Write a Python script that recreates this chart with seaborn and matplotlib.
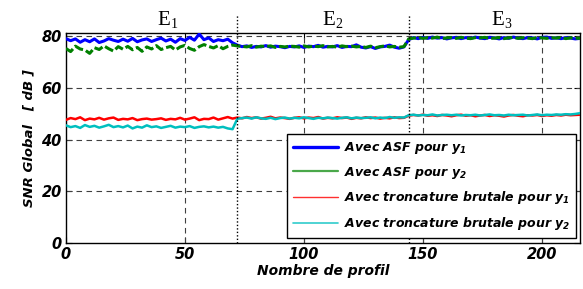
import matplotlib
matplotlib.use("Agg")
import matplotlib.pyplot as plt
from matplotlib.lines import Line2D
import numpy as np
import pandas as pd
import seaborn as sns

# profile index (one point every 2 profiles), three segments E1, E2, E3
profiles = list(range(0, 217, 2))
segment_bounds = [72, 144]
segment_labels = [("E", "1", 44), ("E", "2", 113), ("E", "3", 184)]

blue_asf_y1 = [79.0, 78.2, 78.9, 77.6, 78.6, 77.8, 78.9, 77.5, 78.1, 79.0, 78.4, 77.9, 78.8, 78.0, 79.1, 77.8, 78.5, 78.9,
               77.9, 78.6, 79.2, 78.1, 78.8, 77.6, 79.0, 78.3, 79.5, 78.4, 80.8, 78.6, 79.3, 77.9, 78.6, 78.2, 78.8, 77.4,
               76.5, 75.9, 76.2, 75.6, 76.0, 75.8, 76.3, 75.7, 76.1, 75.9, 75.5, 76.0, 75.8, 76.2, 75.6, 76.1, 75.9, 76.4,
               75.7, 76.0, 75.8, 76.3, 75.6, 76.0, 75.9, 76.6, 75.7, 75.4, 75.9, 75.2, 75.8, 76.0, 76.5, 75.7, 75.3, 75.8,
               78.6, 79.4, 79.0, 79.5, 79.1, 79.6, 79.2, 79.4, 78.9, 79.3, 79.5, 79.0, 79.4, 79.1, 79.6, 79.2, 79.0, 79.5,
               79.3, 78.9, 79.4, 79.1, 79.6, 79.2, 79.0, 79.4, 79.3, 78.9, 79.5, 79.6, 79.1, 79.3, 79.0, 79.4, 79.2, 78.9, 79.1]
green_asf_y2 = [75.2, 74.0, 76.1, 75.0, 74.6, 73.3, 75.5, 74.8, 76.2, 75.1, 74.2, 75.9, 74.9, 76.0, 74.7, 75.6, 74.1, 75.8,
                75.0, 76.3, 74.8, 75.5, 76.0, 74.6, 75.8, 76.4, 75.2, 74.5, 75.9, 76.7, 76.0, 75.4, 76.3, 75.1, 76.0, 76.5,
                76.2, 76.0, 75.8, 76.3, 75.7, 76.1, 75.9, 76.2, 75.6, 76.0, 75.8, 76.1, 76.0, 75.7, 76.2, 75.8, 76.1, 75.9,
                76.3, 75.8, 76.0, 75.7, 76.2, 75.9, 76.1, 75.8, 76.0, 75.6, 76.1, 75.5, 75.9, 76.2, 75.8, 76.0, 75.7, 75.9,
                78.9, 79.2, 79.5, 79.1, 79.4, 79.2, 79.6, 79.0, 79.3, 79.4, 79.1, 79.5, 79.2, 79.0, 79.4, 79.3, 79.5, 79.1,
                79.2, 79.4, 79.0, 79.3, 79.5, 79.1, 79.4, 79.2, 79.0, 79.5, 79.3, 79.1, 79.4, 79.2, 79.5, 79.0, 79.3, 79.2, 79.1]
red_trunc_y1 = [47.6, 48.3, 47.9, 48.6, 47.5, 48.1, 47.8, 48.4, 47.7, 48.2, 48.5, 47.6, 48.0, 47.8, 48.3, 47.5, 47.9, 48.1,
                47.7, 47.9, 48.2, 47.6, 48.0, 47.8, 48.4, 47.7, 48.1, 48.6, 47.5, 48.0, 47.9, 48.5, 47.7, 48.2, 48.7, 48.1,
                48.5, 48.2, 48.7, 48.3, 48.6, 48.1, 48.4, 48.8, 48.2, 48.5, 48.3, 48.0, 48.4, 48.6, 48.2, 48.5, 48.3, 48.7,
                48.1, 48.4, 48.2, 48.6, 48.3, 48.5, 48.0, 48.4, 48.2, 48.6, 48.3, 48.5, 48.1, 48.4, 48.2, 48.6, 48.3, 48.4,
                49.2, 49.5, 49.3, 49.6, 49.2, 49.4, 49.1, 49.5, 49.3, 49.0, 49.4, 49.6, 49.2, 49.4, 49.0, 49.3, 49.5, 49.1,
                49.4, 49.2, 48.9, 49.3, 49.5, 49.2, 49.0, 49.4, 49.3, 49.5, 49.1, 49.4, 49.2, 49.5, 49.3, 49.6, 49.4, 49.5, 49.6]
cyan_trunc_y2 = [45.5, 44.8, 45.2, 44.5, 45.6, 44.9, 45.3, 44.6, 45.1, 45.7, 44.8, 45.2, 44.7, 45.4, 44.3, 45.0, 44.6, 45.5,
                 44.8, 45.1, 44.5, 44.9, 45.3, 44.6, 45.0, 44.8, 45.2, 44.5, 44.9, 45.1, 44.7, 45.0, 44.6, 44.9, 44.3, 44.0,
                 48.0, 48.3, 48.5, 48.1, 48.6, 48.2, 48.0, 48.4, 47.9, 48.3, 48.5, 48.1, 48.4, 48.2, 48.6, 48.3, 48.0, 48.4,
                 48.2, 48.5, 48.3, 48.1, 48.4, 48.6, 48.2, 48.5, 48.3, 48.4, 48.6, 48.2, 48.5, 48.3, 48.7, 48.4, 48.6, 48.5,
                 49.4, 49.6, 49.3, 49.5, 49.4, 49.7, 49.3, 49.5, 49.6, 49.4, 49.6, 49.3, 49.5, 49.4, 49.6, 49.3, 49.5, 49.7,
                 49.4, 49.5, 49.3, 49.6, 49.4, 49.5, 49.6, 49.3, 49.5, 49.7, 49.4, 49.6, 49.5, 49.7, 49.6, 49.8, 49.7, 49.9, 50.2]

labels = [r"Avec ASF pour $y_{1}$", r"Avec ASF pour $y_{2}$",
          r"Avec troncature brutale pour $y_{1}$", r"Avec troncature brutale pour $y_{2}$"]

sns.set_style("ticks")
plt.rcParams["font.family"] = ["DejaVu Sans"]
plt.rcParams["font.weight"] = "bold"
plt.rcParams["font.style"] = "italic"
plt.rcParams["text.color"] = "black"
plt.rcParams["xtick.color"] = "black"
plt.rcParams["ytick.color"] = "black"
plt.rcParams["axes.labelcolor"] = "black"
plt.rcParams["mathtext.fontset"] = "custom"
plt.rcParams["mathtext.it"] = "DejaVu Sans:bold:italic"
plt.rcParams["mathtext.rm"] = "DejaVu Sans:bold:italic"
plt.rcParams["mathtext.bf"] = "DejaVu Sans:bold:italic"

fig = plt.figure(figsize=(5.83, 2.89), dpi=100)
ax = fig.add_axes([0.113, 0.159, 0.882, 0.727])

# Grid lines (MATLAB style dashed)
for gy in [20, 40, 60, 80]:
    ax.axhline(gy, color="0.25", ls=(0, (5, 4)), lw=0.8, zorder=1)
for gx in [50, 100, 150, 200]:
    ax.axvline(gx, color="0.25", ls=(0, (5, 4)), lw=0.8, zorder=1)

series = [
    (blue_asf_y1, "#0000ff", "-", 2.2),
    (green_asf_y2, "#008000", (0, (3, 1)), 2.2),
    (red_trunc_y1, "#ff0000", "-", 1.8),
    (cyan_trunc_y2, "#00bfbf", "-", 1.8),
]
for (vals, col, ls, lw), lab in zip(series, labels):
    df = pd.DataFrame({"profil": profiles, "snr": vals})
    sns.lineplot(data=df, x="profil", y="snr", ax=ax, color=col, lw=lw, linestyle=ls, zorder=3)

# Segment boundaries, extending above the axes
for b in segment_bounds:
    ax.plot([b, b], [0, 88], color="black", ls=(0, (1, 1.5)), lw=1.0, clip_on=False, zorder=4)

for base, sub, xc in segment_labels:
    ax.text(xc, 82.5, base, family="Liberation Serif", style="normal", weight="normal",
            fontsize=15, ha="right", va="bottom")
    ax.text(xc, 81.8, sub, family="Liberation Serif", style="normal", weight="normal",
            fontsize=10, ha="left", va="bottom")

ax.set_xlim(0, 216)
ax.set_ylim(0, 81.2)
ax.set_xticks([0, 50, 100, 150, 200])
ax.set_yticks([0, 20, 40, 60, 80])
ax.tick_params(direction="in", top=True, right=True, length=4, width=0.8, labelsize=10.5, pad=3)
for lab in ax.get_xticklabels() + ax.get_yticklabels():
    lab.set_fontweight("bold")
    lab.set_fontstyle("italic")
for sp in ax.spines.values():
    sp.set_linewidth(1.0)
    sp.set_color("black")

ax.set_xlabel("Nombre de profil", fontsize=10, fontweight="bold", fontstyle="italic", labelpad=1)
ax.set_ylabel("SNR Global   [ dB ]", fontsize=9.5, fontweight="bold", fontstyle="italic", labelpad=4)

handles = [
    Line2D([], [], color="#0000ff", lw=2.4),
    Line2D([], [], color="#4aa84a", lw=1.6),
    Line2D([], [], color="#ff3030", lw=1.0),
    Line2D([], [], color="#30cccc", lw=1.2),
]
leg = ax.legend(handles, labels, loc="lower right", bbox_to_anchor=(1.005, -0.005),
                prop={"size": 9, "weight": "bold", "style": "italic"},
                frameon=True, fancybox=False, edgecolor="black", framealpha=1,
                handlelength=3.6, handletextpad=0.5, labelspacing=0.7, borderpad=0.45)
leg.get_frame().set_linewidth(1.0)

fig.savefig("out.png", dpi=100)
